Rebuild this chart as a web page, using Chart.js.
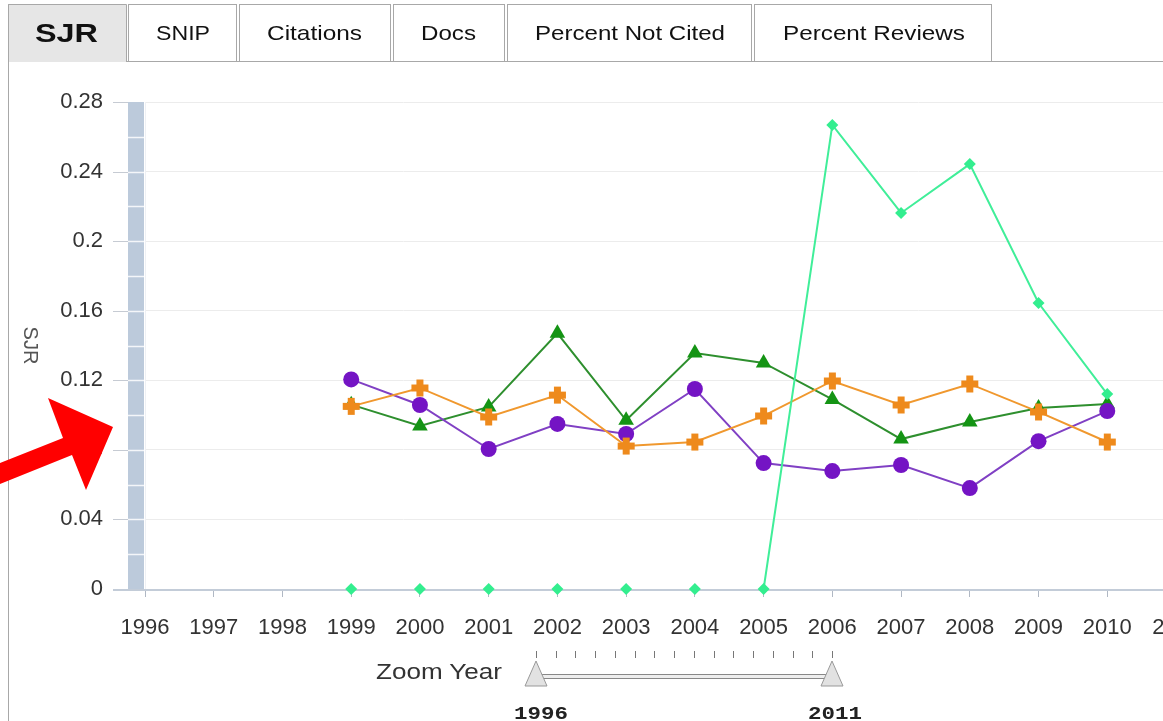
<!DOCTYPE html>
<html><head><meta charset="utf-8">
<script src="https://cdn.jsdelivr.net/npm/chart.js@4.4.1/dist/chart.umd.min.js"></script>
<style>
html,body{margin:0;padding:0;background:#fff;overflow:hidden;width:1163px;height:721px;}
#wrap{position:relative;width:1163px;height:721px;overflow:hidden;}
#c{position:absolute;left:0;top:62px;}
#ov{position:absolute;left:0;top:0;pointer-events:none;}
</style></head><body>
<div id="wrap">
<canvas id="c" width="1210" height="600"></canvas>
<svg id="ov" width="1163" height="721" xmlns="http://www.w3.org/2000/svg">
  <!-- panel frame -->
  <line x1="8.5" y1="4" x2="8.5" y2="721" stroke="#a8a8a8"/>
  <line x1="126" y1="61.5" x2="1163" y2="61.5" stroke="#a8a8a8"/>
  <!-- tabs -->
  <path d="M8.5 62 V4.5 H126.5 V62" fill="#e6e6e6" stroke="#a8a8a8"/>
  <rect x="128.5" y="4.5" width="108" height="57" fill="#fff" stroke="#a8a8a8"/>
  <rect x="239.5" y="4.5" width="151" height="57" fill="#fff" stroke="#a8a8a8"/>
  <rect x="393.5" y="4.5" width="111" height="57" fill="#fff" stroke="#a8a8a8"/>
  <rect x="507.5" y="4.5" width="244" height="57" fill="#fff" stroke="#a8a8a8"/>
  <rect x="754.5" y="4.5" width="237" height="57" fill="#fff" stroke="#a8a8a8"/>
  <g font-family="Liberation Sans, Arial, sans-serif" fill="#111">
    <text x="35" y="42" font-size="26" font-weight="bold" textLength="63" lengthAdjust="spacingAndGlyphs">SJR</text>
    <text x="156" y="40" font-size="21" textLength="54" lengthAdjust="spacingAndGlyphs">SNIP</text>
    <text x="267" y="40" font-size="21" textLength="95" lengthAdjust="spacingAndGlyphs">Citations</text>
    <text x="421" y="40" font-size="21" textLength="55" lengthAdjust="spacingAndGlyphs">Docs</text>
    <text x="535" y="40" font-size="21" textLength="190" lengthAdjust="spacingAndGlyphs">Percent Not Cited</text>
    <text x="783" y="40" font-size="21" textLength="182" lengthAdjust="spacingAndGlyphs">Percent Reviews</text>
  </g>
  <!-- zoom slider -->
  <g id="sliderTicks" stroke="#777" stroke-width="1"></g>
  <rect x="538" y="674.5" width="294" height="4" fill="#eee" stroke="#888"/>
  <polygon points="536,661 525,686 547,686" fill="#e2e2e2" stroke="#999"/>
  <polygon points="832,661 821,686 843,686" fill="#e2e2e2" stroke="#999"/>
  <text x="376" y="679" font-family="Liberation Sans, Arial, sans-serif" font-size="22" fill="#333" textLength="126" lengthAdjust="spacingAndGlyphs">Zoom Year</text>
  <text x="514" y="719" font-family="Liberation Mono, Courier New, monospace" font-weight="bold" font-size="18" fill="#222" textLength="54" lengthAdjust="spacingAndGlyphs">1996</text>
  <text x="808" y="719" font-family="Liberation Mono, Courier New, monospace" font-weight="bold" font-size="18" fill="#222" textLength="54" lengthAdjust="spacingAndGlyphs">2011</text>
  <!-- red annotation arrow -->
  <polygon points="0,463 63,438 48,398 113,427 86,490 72,455 0,484" fill="#ff0000"/>
</svg>
</div>
<script>
// ---- data ----
const years = [1996,1997,1998,1999,2000,2001,2002,2003,2004,2005,2006,2007,2008,2009,2010,2011];
const sjrLightGreen = [null,null,null,0,0,0,0,0,0,0,0.2668,0.2162,0.2443,0.1644,0.1121,null];
const sjrOrange     = [null,null,null,0.105,0.1156,0.0989,0.1115,0.0822,0.0845,0.0995,0.1196,0.1058,0.1179,0.1018,0.0845,null];
const sjrPurple     = [null,null,null,0.1205,0.1058,0.0805,0.0949,0.0891,0.115,0.0724,0.0678,0.0713,0.058,0.085,0.1023,null];
const sjrGreen      = [null,null,null,0.106,0.0937,0.1047,0.147,0.097,0.1357,0.130,0.109,0.0862,0.096,0.104,0.1064,null];
const yTickValues = [0,0.04,0.08,0.12,0.16,0.2,0.24,0.28];
const sliderYears = years;

// slider ticks (decoration)
(function(){
  const g = document.getElementById('sliderTicks');
  const n = sliderYears.length;
  for (let i=0;i<n;i++){
    const x = Math.round(536 + i*(296/(n-1)))+0.5;
    const l = document.createElementNS('http://www.w3.org/2000/svg','line');
    l.setAttribute('x1',x);l.setAttribute('x2',x);l.setAttribute('y1',651);l.setAttribute('y2',658);
    g.appendChild(l);
  }
})();

// thick plus marker
function plusMarker(color){
  const c = document.createElement('canvas');
  c.width = 19; c.height = 19;
  const x = c.getContext('2d');
  x.fillStyle = color;
  x.fillRect(6,1,7,17);
  x.fillRect(1,6,17,7);
  return c;
}

const decor = {
  id:'decor',
  beforeDatasetsDraw(chart){
    const {ctx, chartArea:a, scales:{y}} = chart;
    const ln=(x1,y1,x2,y2)=>{ctx.beginPath();ctx.moveTo(x1,y1);ctx.lineTo(x2,y2);ctx.stroke();};
    ctx.save();
    // grey scroll bar left of plot
    ctx.fillStyle='#bccadb';
    ctx.fillRect(a.left-17, a.top, 16, a.bottom-a.top);
    ctx.strokeStyle='#f4f6f9'; ctx.lineWidth=1.5;
    for(let k=1;k<14;k++){
      const py=Math.round(y.getPixelForValue(k*0.02))+0.5;
      ln(a.left-17,py,a.left-1,py);
    }
    // y tick marks
    ctx.strokeStyle='#c6cbd3'; ctx.lineWidth=1;
    y.ticks.forEach(t=>{const py=Math.round(y.getPixelForValue(t.value))+0.5; ln(a.left-32,py,a.left-17,py);});
    // x axis line
    ctx.strokeStyle='#c3ccd8'; ctx.lineWidth=2;
    ln(a.left-32,a.bottom+1,chart.width,a.bottom+1);
    // y title, rotated clockwise
    ctx.translate(30,(a.top+a.bottom)/2);
    ctx.rotate(Math.PI/2);
    ctx.fillStyle='#555'; ctx.font='20px "Liberation Sans", Arial, sans-serif';
    ctx.textAlign='center'; ctx.textBaseline='middle';
    ctx.fillText('SJR',0,0);
    ctx.restore();
  }
};

const bothZero = (ctx, col) => (ctx.p0.parsed.y===0 && ctx.p1.parsed.y===0) ? 'rgba(0,0,0,0)' : col;

new Chart(document.getElementById('c'), {
  type:'line',
  data:{
    labels: years,
    datasets:[
      {label:'lightgreen', data:sjrLightGreen, borderColor:'#40ee99', backgroundColor:'#33ee8f', borderWidth:2,
       pointStyle:'rectRot', pointRadius:6, pointBorderWidth:0, clip:false,
       segment:{borderColor: c=>bothZero(c,'#40ee99')}},
      {label:'orange', data:sjrOrange, borderColor:'#f0982e', backgroundColor:'#ee8a1c', borderWidth:2,
       pointStyle: plusMarker('#ee8a1c'), pointRadius:9},
      {label:'purple', data:sjrPurple, borderColor:'#8040c4', backgroundColor:'#7414c4', borderWidth:2,
       pointStyle:'circle', pointRadius:8, pointBorderWidth:0},
      {label:'green', data:sjrGreen, borderColor:'#2e8f2e', backgroundColor:'#149414', borderWidth:2,
       pointStyle:'triangle', pointRadius:9, pointBorderWidth:0}
    ]
  },
  options:{
    responsive:false, animation:false, devicePixelRatio:1,
    layout:{padding:{top:40,right:34,left:0,bottom:0}},
    plugins:{legend:{display:false}, tooltip:{enabled:false}},
    elements:{line:{tension:0}},
    scales:{
      x:{
        type:'category', offset:false,
        grid:{drawOnChartArea:false, drawTicks:true, tickLength:8, color:'#b0b8c4'},
        border:{display:false},
        ticks:{font:{family:'"Liberation Sans", Arial, sans-serif', size:22}, color:'#333', padding:18, maxRotation:0, autoSkip:false},
        afterFit(s){ s.height = 73; s.paddingLeft = 0; s.paddingRight = 0; }
      },
      y:{
        min:0, max:0.28,
        grid:{color:'#ececec', drawTicks:false, lineWidth:1},
        border:{display:true, color:'#eef0f4'},
        ticks:{stepSize:0.04, padding:42, color:'#333', font:{family:'"Liberation Sans", Arial, sans-serif', size:22},
               callback:(v)=>String(parseFloat(v.toFixed(2)))},
        afterBuildTicks(s){ s.ticks = yTickValues.map(v=>({value:v})); },
        afterFit(s){ s.width = 145; s.paddingTop = 0; s.paddingBottom = 0; }
      }
    }
  },
  plugins:[decor]
});
</script>
</body></html>
